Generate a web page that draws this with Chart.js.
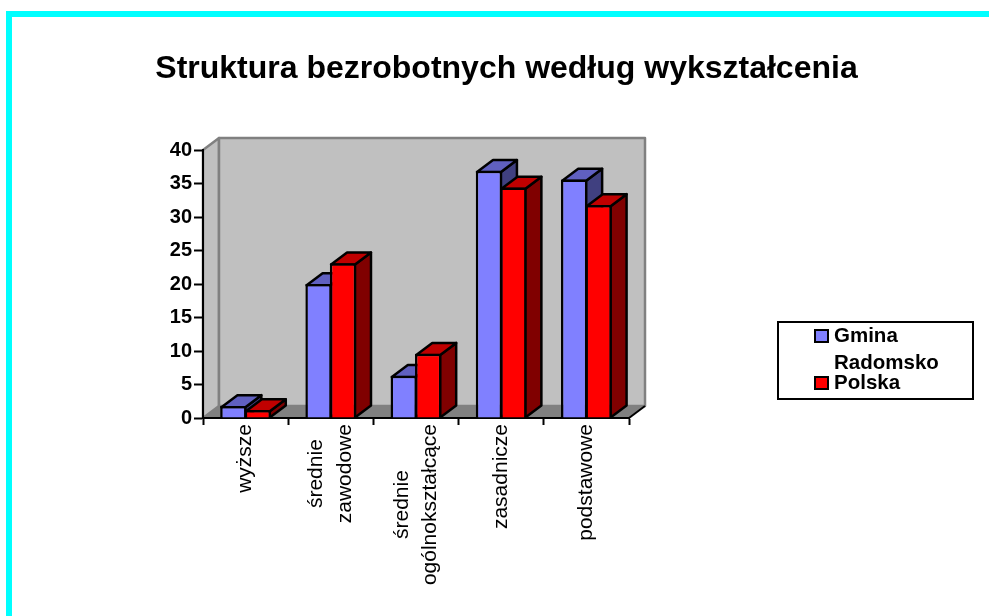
<!DOCTYPE html>
<html><head><meta charset="utf-8">
<style>html,body{margin:0;padding:0;background:#fff;width:989px;height:616px;overflow:hidden}
#wrap{position:absolute;left:0;top:0;width:989px;height:616px}
</style>
<script src="https://cdn.jsdelivr.net/npm/chart.js@4"></script>
</head><body><div id="wrap"><canvas id="c" width="989" height="616"></canvas></div>
<script>
const categories = ['wyższe', ['średnie','zawodowe'], ['średnie','ogólnokształcące'], 'zasadnicze', 'podstawowe'];
const gminaValues = [1.8, 20, 6.3, 36.9, 35.6];
const polskaValues = [1.2, 23.1, 9.6, 34.4, 31.8];
const yTicks = [0,5,10,15,20,25,30,35,40];
const titleText = 'Struktura bezrobotnych według wykształcenia';
const legendRows = [
  {lines:['Gmina','Radomsko'], color:'#8080FF'},
  {lines:['Polska'], color:'#FF0000'}
];
const FONT = '"Liberation Sans", Arial, sans-serif';
const DX = 16, DY = 12, LW = 2.5;
const XFONT = '21px '+FONT;
const shades = [{top:'#6060C0',side:'#404080'},{top:'#C00000',side:'#800000'}];

function poly(ctx, pts, fill, stroke, lw){
  ctx.beginPath();
  pts.forEach((p,i)=> i?ctx.lineTo(p[0],p[1]):ctx.moveTo(p[0],p[1]));
  ctx.closePath();
  if(fill){ctx.fillStyle=fill;ctx.fill();}
  if(stroke){ctx.strokeStyle=stroke;ctx.lineWidth=lw;ctx.lineJoin='round';ctx.stroke();}
}
const scenePlugin = {
  id:'scene',
  beforeDraw(chart){
    const {ctx,chartArea:a} = chart;
    ctx.save();
    ctx.fillStyle='#00FFFF';
    ctx.fillRect(6,11,983,6);
    ctx.fillRect(6,11,6,605);
    poly(ctx,[[a.left,a.top],[a.left+DX,a.top-DY],[a.left+DX,a.bottom-DY],[a.left,a.bottom]],'#C0C0C0','#808080',2.5);
    poly(ctx,[[a.left+DX,a.top-DY],[a.right+DX,a.top-DY],[a.right+DX,a.bottom-DY],[a.left+DX,a.bottom-DY]],'#C0C0C0','#808080',2.5);
    poly(ctx,[[a.left,a.bottom],[a.left+DX,a.bottom-DY],[a.right+DX,a.bottom-DY],[a.right,a.bottom]],'#808080',null,0);
    ctx.strokeStyle='#000';ctx.lineWidth=2;
    ctx.beginPath();ctx.moveTo(a.right,a.bottom);ctx.lineTo(a.right+DX,a.bottom-DY);ctx.stroke();
    // multi-line category labels are centred line by line, as in the reference
    const sx = chart.scales.x;
    ctx.font = XFONT;
    sx.getLabelItems().forEach(it=>{
      if(it.__c) return;
      const lines = Array.isArray(it.label)?it.label:[it.label];
      const w = Math.max(...lines.map(t=>ctx.measureText(t).width));
      const o = it.options;
      o.textAlign='center';
      o.translation=[o.translation[0],o.translation[1]-1+w/2];
      it.textOffset-=(lines.length-1)*it.font.lineHeight/2;
      it.__c=true;
    });
    ctx.restore();
  },
  beforeDatasetsDraw(chart){
    const {ctx} = chart;
    chart.getSortedVisibleDatasetMetas().forEach(meta=>{
      const s = shades[meta.index];
      ctx.save();
      meta.data.forEach(el=>{
        const p = el.getProps(['x','y','base','width'],true);
        const l=p.x-p.width/2+LW/2,r=p.x+p.width/2-LW/2,t=p.y+LW/2,b=p.base;
        poly(ctx,[[r,t],[r+DX,t-DY],[r+DX,b-DY],[r,b]],s.side,'#000',LW);
        poly(ctx,[[l,t],[l+DX,t-DY],[r+DX,t-DY],[r,t]],s.top,'#000',LW);
      });
      ctx.restore();
      meta.controller.draw();
    });
    return false;
  },
  afterDraw(chart){
    const {ctx} = chart;
    ctx.save();
    ctx.strokeStyle='#000';ctx.lineWidth=2;ctx.fillStyle='#fff';
    ctx.fillRect(778,322,195,77);ctx.strokeRect(778,322,195,77);
    ctx.font='bold 20.5px '+FONT;ctx.textBaseline='alphabetic';ctx.textAlign='left';
    let y=342;
    legendRows.forEach((row)=>{
      ctx.fillStyle=row.color;ctx.fillRect(815,y-12,13,12);
      ctx.strokeStyle='#000';ctx.strokeRect(815,y-12,13,12);
      ctx.fillStyle='#000';
      row.lines.forEach(t=>{ctx.fillText(t,834,y);y+=27;});
      y-=7;
    });
    ctx.restore();
  }
};
new Chart(document.getElementById('c'),{
  type:'bar',
  data:{labels:categories,datasets:[
    {label:'Gmina Radomsko',data:gminaValues,backgroundColor:'#8080FF',borderColor:'#000',borderWidth:LW},
    {label:'Polska',data:polskaValues,backgroundColor:'#FF0000',borderColor:'#000',borderWidth:LW}
  ]},
  plugins:[scenePlugin],
  options:{
    responsive:false,animation:false,
    categoryPercentage:0.574,barPercentage:1.08,
    layout:{padding:{left:24,right:0,top:0,bottom:0}},
    plugins:{
      legend:{display:false},tooltip:{enabled:false},
      title:{display:true,text:titleText,color:'#000',font:{family:FONT,size:32,weight:'bold'},padding:{top:50,bottom:61.6}}
    },
    scales:{
      x:{
        z:1,
        afterFit(s){s.height=198;},
        grid:{drawOnChartArea:false,tickColor:'#000',tickWidth:2,tickLength:7,offset:true},
        border:{color:'#000',width:2},
        ticks:{color:'#000',font:{family:FONT,size:21,lineHeight:1.35},minRotation:90,maxRotation:90,autoSkip:false,padding:0}
      },
      y:{
        min:0,max:40,
        z:1,
        afterFit(s){s.width=179;},
        afterBuildTicks(s){s.ticks=yTicks.map(v=>({value:v}));},
        grid:{drawOnChartArea:false,tickColor:'#000',tickWidth:2,tickLength:9},
        border:{color:'#000',width:2},
        ticks:{color:'#000',font:{family:FONT,size:20,weight:'bold'},padding:2}
      },
      gutter:{
        position:'right',display:true,min:0,max:1,
        afterFit(s){s.width=360;},
        grid:{display:false},border:{display:false},ticks:{display:false}
      }
    }
  }
});
</script></body></html>
